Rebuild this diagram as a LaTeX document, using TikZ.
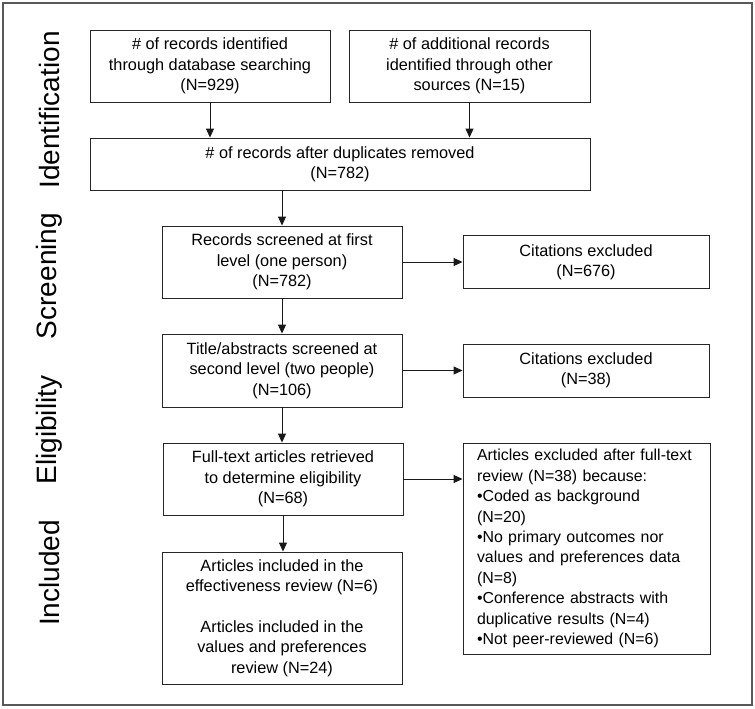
\documentclass[tikz,border=0pt]{standalone}
\usepackage{fontspec}
\setmainfont{Liberation Sans}
\usetikzlibrary{arrows.meta}

\begin{document}
\begin{tikzpicture}[x=1pt, y=-1pt]
% Configuration
\tikzset{box/.style={draw=black!85, line width=0.9pt, align=center, inner sep=1pt, font=\fontsize{16.3}{20.4}\selectfont}}
\tikzset{stage/.style={rotate=90, font=\fontsize{28}{32}\selectfont}}
\tikzset{flow/.style={draw=black!90, line width=0.9pt, -{Triangle[length=9pt, width=8pt]}}}

\useasboundingbox (0,0) rectangle (755,709);
\draw[black!65, line width=1.6pt] (3,3) rectangle (752,705);

% Stages
\node[stage] (SI) at (49,110) {Identification};
\node[stage] (SS) at (49,276) {Screening};
\node[stage] (SE) at (49,430) {Eligibility};
\node[stage] (SN) at (49,573) {Included};

% Identification
\node[box, minimum width=240, minimum height=72] (A) at (210,66) {\# of records identified\\through database searching\\(N=929)};
\node[box, minimum width=241, minimum height=72] (B) at (469.5,66) {\# of additional records\\identified through other\\sources (N=15)};
\node[box, minimum width=500, minimum height=52] (C) at (340,164) {\# of records after duplicates removed\\(N=782)};

% Screening
\node[box, minimum width=240, minimum height=72] (D) at (282,262) {Records screened at first\\level (one person)\\(N=782)};
\node[box, minimum width=246, minimum height=53] (E) at (586,262) {Citations excluded\\(N=676)};
\node[box, minimum width=240, minimum height=73] (F) at (282,370.5) {Title/abstracts screened at\\second level (two people)\\(N=106)};
\node[box, minimum width=246, minimum height=53] (G) at (586,370.5) {Citations excluded\\(N=38)};

% Eligibility
\node[box, minimum width=240, minimum height=72] (H) at (283,479) {Full-text articles retrieved\\to determine eligibility\\(N=68)};
\node[box, minimum width=247, minimum height=211, text width=219, inner xsep=14pt, align=left, font=\fontsize{15.9}{20.4}\selectfont] (I) at (586.5,548.5) {Articles excluded after full-text\\review (N=38) because:\\•Coded as background\\(N=20)\\•No primary outcomes nor\\values and preferences data\\(N=8)\\•Conference abstracts with\\duplicative results (N=4)\\•Not peer-reviewed (N=6)};

% Included
\node[box, minimum width=240, minimum height=132] (J) at (282,618) {Articles included in the\\effectiveness review (N=6)\\[20.4pt]Articles included in the\\values and preferences\\review (N=24)};

% Connections
\draw[flow] (A.south) -- (A.south |- C.north);
\draw[flow] (B.south) -- (B.south |- C.north);
\draw[flow] (D.north |- C.south) -- (D.north);
\draw[flow] (D.east) -- (E.west);
\draw[flow] (D.south) -- (F.north);
\draw[flow] (F.east) -- (G.west);
\draw[flow] (F.south) -- (F.south |- H.north);
\draw[flow] (H.east) -- (H.east -| I.west);
\draw[flow] (H.south) -- (H.south |- J.north);
\end{tikzpicture}
\end{document}
